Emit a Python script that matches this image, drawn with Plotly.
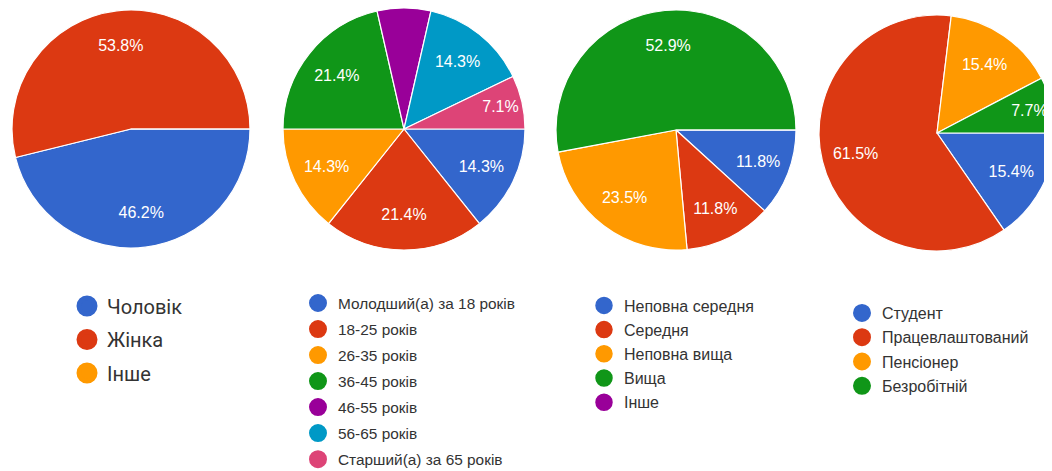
import plotly.graph_objects as go

# ---- data ----
gender_labels = ["Чоловік", "Жінка", "Інше"]
gender_values = [6, 7, 0]

age_labels = ["Молодший(а) за 18 років", "18-25 років", "26-35 років", "36-45 років",
              "46-55 років", "56-65 років", "Старший(а) за 65 років"]
age_values = [2, 3, 2, 3, 1, 2, 1]

edu_labels = ["Неповна середня", "Середня", "Неповна вища", "Вища", "Інше"]
edu_values = [2, 2, 4, 9, 0]

job_labels = ["Студент", "Працевлаштований", "Пенсіонер", "Безробітній"]
job_values = [2, 8, 2, 1]

palette = ["#3366cc", "#dc3912", "#ff9900", "#109618", "#990099", "#0099c6", "#dd4477"]

W, H = 1052, 471
OX, OY = 8, 8  # page body offset

def px_dom(x0, x1, y0, y1):
    return dict(x=[(x0 - OX) / W, (x1 - OX) / W],
                y=[1 - (y1 - OY) / H, 1 - (y0 - OY) / H])

pies = [
    (gender_labels, gender_values, px_dom(12, 250, 10, 248), "legend"),
    (age_labels, age_values, px_dom(283, 525, 8, 250), "legend2"),
    (edu_labels, edu_values, px_dom(556, 796, 10, 250), "legend3"),
    (job_labels, job_values, px_dom(819, 1055, 15, 251), "legend4"),
]

fig = go.Figure()
for labels, values, dom, lg in pies:
    tmpl = []
    for lab, v in zip(labels, values):
        if v == 0 or lab == "46-55 років":
            tmpl.append("")
        else:
            tmpl.append("%{percent:.1%}")
    common = dict(labels=labels, values=values, domain=dom,
                  sort=False, direction="clockwise", rotation=90,
                  showlegend=False)
    # the visible pie
    fig.add_trace(go.Pie(**common, textinfo="none", hoverinfo="label+percent",
                         marker=dict(colors=palette[:len(labels)],
                                     line=dict(color="white", width=1.2))))
    # transparent ring on top that only carries the labels (placed at ~0.7 r)
    fig.add_trace(go.Pie(**common, hole=0.42,
                         marker=dict(colors=["rgba(0,0,0,0)"] * len(labels),
                                     line=dict(width=0)),
                         texttemplate=tmpl, textposition="inside",
                         insidetextorientation="horizontal",
                         textfont=dict(color="white", size=16, family="Liberation Sans, Arial"),
                         hoverinfo="skip"))

legend_marker = {"legend": (16, 5), "legend2": (16, 2), "legend3": (16, 1.5), "legend4": (16, 2)}
for labels, values, dom, lg in pies:
    ms, mlw = legend_marker[lg]
    for i, lab in enumerate(labels):
        fig.add_trace(go.Scatter(
            x=[None], y=[None], mode="markers", name=lab,
            marker=dict(color=palette[i], size=ms, symbol="circle",
                        line=dict(color=palette[i], width=mlw)),
            legend=lg, legendgroup=lg + str(i), showlegend=True, hoverinfo="skip",
        ))

def leg(x, y, size, gap, family):
    return dict(x=(x - OX) / W, y=1 - (y - OY) / H, xanchor="left", yanchor="top",
                font=dict(size=size, color="#333333", family=family),
                tracegroupgap=gap, bgcolor="rgba(0,0,0,0)", itemclick=False)

fig.update_layout(
    width=W, height=H,
    margin=dict(l=0, r=0, t=0, b=0, autoexpand=False),
    paper_bgcolor="white", plot_bgcolor="white",
    xaxis=dict(visible=False), yaxis=dict(visible=False),
    legend=leg(67, 286.5, 20, 4.5, "Roboto, Arial"),
    legend2=leg(298, 286.5, 15.4, 3.0, "Liberation Sans, Arial"),
    legend3=leg(584, 288.5, 16, 0.4, "Liberation Sans, Arial"),
    legend4=leg(842, 296, 16, 0.5, "Liberation Sans, Arial"),
)

fig.write_html("out.html")
